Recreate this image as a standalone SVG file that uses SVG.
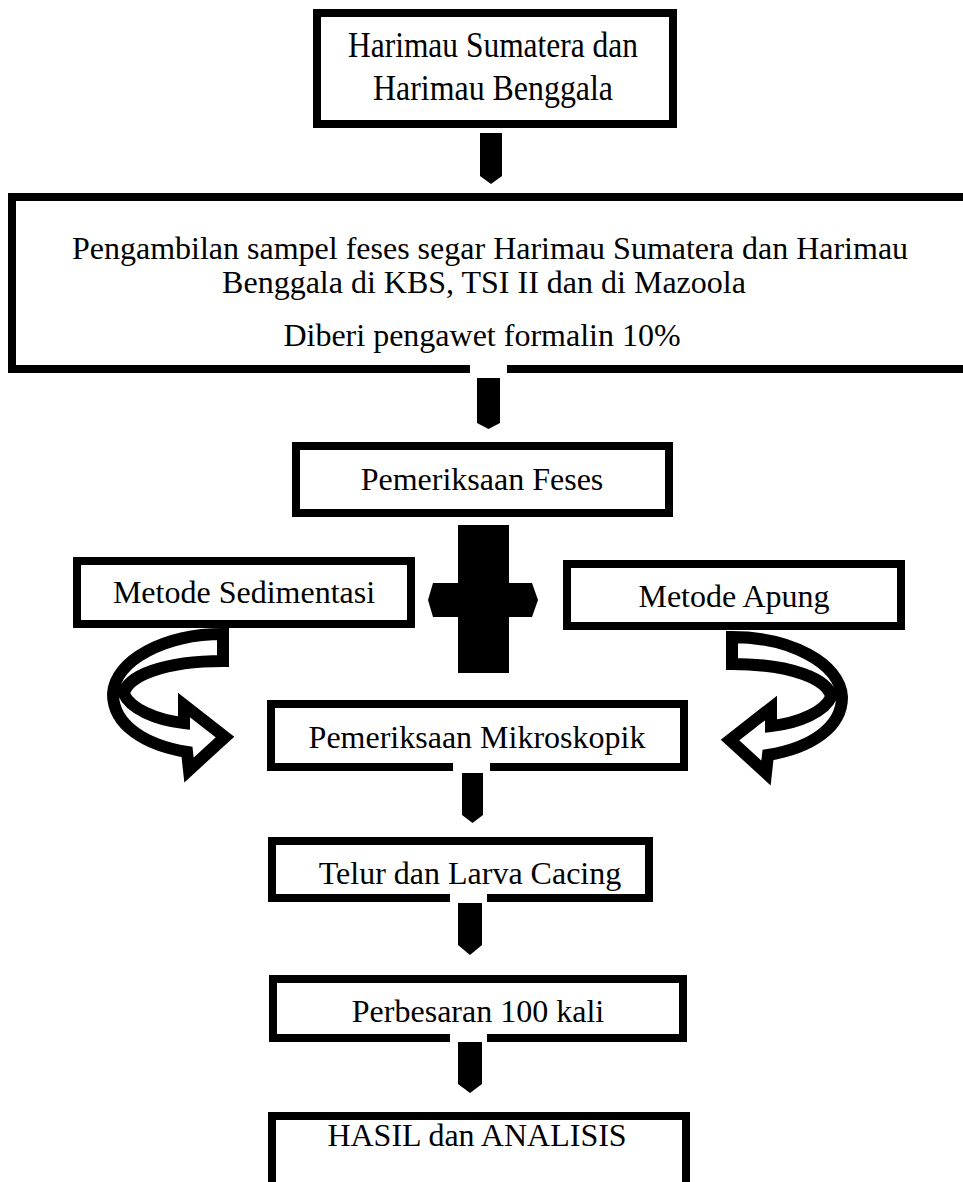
<svg xmlns="http://www.w3.org/2000/svg" width="963" height="1182" viewBox="0 0 963 1182">
<style>
.box{fill:#fff;stroke:#000;stroke-width:8}
.t{font-family:"Liberation Serif","Times New Roman",serif;font-size:32px;fill:#000;text-anchor:middle}
.big{font-size:35px}
.arrow{fill:#000}
.gap{fill:#fff}
.curve{fill:#fff;stroke:#000;stroke-width:12;stroke-linejoin:miter}
</style>
<defs>
<path id="curvedArrow" class="curve" d="M223,634 C165,634 115,660 113,694 C113,725 145,745 187,752 L189,770 L225,737 L184,705 L184,723 C155,720 130,708 124,694 C126,676 165,661 223,661 Z"/>
</defs>
<rect width="963" height="1182" fill="#fff"/>
<g id="node-harimau">
<rect class="box" x="317" y="13" width="356" height="111"/>
<text class="t big" x="493" y="57" textLength="290" lengthAdjust="spacingAndGlyphs">Harimau Sumatera dan</text>
<text class="t big" x="493" y="100" textLength="240" lengthAdjust="spacingAndGlyphs">Harimau Benggala</text>
</g>
<g id="node-pengambilan">
<rect class="box" x="12" y="197" width="1000" height="172"/>
<text class="t" x="490" y="259">Pengambilan sampel feses segar Harimau Sumatera dan Harimau</text>
<text class="t" x="484" y="293">Benggala di KBS, TSI II dan di Mazoola</text>
<text class="t" x="482" y="346">Diberi pengawet formalin 10%</text>
</g>
<g id="node-pemeriksaan-feses">
<rect class="box" x="296" y="446" width="373" height="67"/>
<text class="t" x="482" y="490">Pemeriksaan Feses</text>
</g>
<g id="node-sedimentasi">
<rect class="box" x="77" y="561" width="334" height="63"/>
<text class="t" x="244" y="603">Metode Sedimentasi</text>
</g>
<g id="node-apung">
<rect class="box" x="567" y="564" width="334" height="62"/>
<text class="t" x="734" y="607">Metode Apung</text>
</g>
<g id="node-mikroskopik">
<rect class="box" x="271" y="704" width="413" height="63"/>
<text class="t" x="477" y="748">Pemeriksaan Mikroskopik</text>
</g>
<g id="node-telur">
<rect class="box" x="272" y="841" width="377" height="57"/>
<text class="t" x="470" y="884">Telur dan Larva Cacing</text>
</g>
<g id="node-perbesaran">
<rect class="box" x="273" y="979" width="410" height="59"/>
<text class="t" x="478" y="1022">Perbesaran 100 kali</text>
</g>
<g id="node-hasil">
<rect class="box" x="272" y="1116" width="414" height="90"/>
<text class="t" x="477" y="1146">HASIL dan ANALISIS</text>
</g>
<g id="connectors">
<path class="arrow" d="M480,133 H502 V176 L491,184 L480,176 Z"/>
<rect class="gap" x="470" y="360" width="37" height="18"/>
<path class="arrow" d="M477,378 H500 V423 L488.5,429 L477,423 Z"/>
<path class="arrow" d="M458,525 H509 V583 H532 L538,600 L532,617 H509 V673 H458 V617 H433 L428,600 L433,583 H458 Z"/>
<use href="#curvedArrow"/>
<use href="#curvedArrow" transform="translate(955,3) scale(-1,1)"/>
<rect class="gap" x="453" y="760" width="37" height="15"/>
<path class="arrow" d="M462,773 H483 V815 L472.5,823 L462,815 Z"/>
<rect class="gap" x="450" y="890" width="37" height="15"/>
<path class="arrow" d="M458,903 H482 V945 L470,955 L458,945 Z"/>
<rect class="gap" x="450" y="1032" width="37" height="12"/>
<path class="arrow" d="M458,1042 H482 V1084 L470,1093 L458,1084 Z"/>
</g>
</svg>
